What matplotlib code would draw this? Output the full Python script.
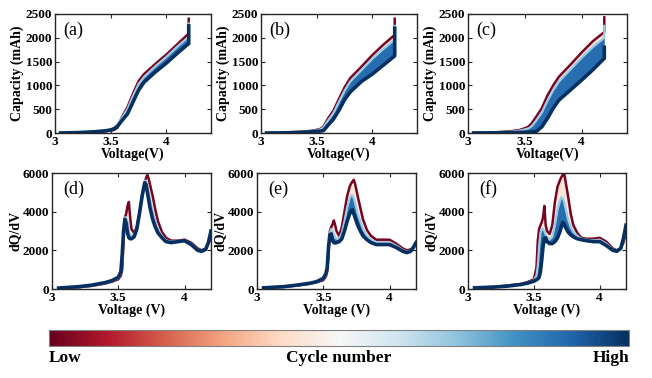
"""Capacity and dQ/dV curves over cycling for three cells, coloured by cycle number."""
import matplotlib
matplotlib.use("Agg")
import matplotlib as mpl
import matplotlib.pyplot as plt

# Charge curves: capacity (mAh) vs voltage, three cycles per cell (low, mid, high)
v_cap = [3.05, 3.2, 3.35, 3.45, 3.5, 3.53, 3.56, 3.6, 3.65, 3.7, 3.75, 3.8, 3.9, 4.0, 4.1, 4.2, 4.2]

cap_a_low = [0, 5, 18, 35, 50, 65, 110, 330, 540, 830, 1090, 1240, 1450, 1650, 1870, 2090, 2400]
cap_a_mid = [0, 8, 25, 48, 70, 100, 170, 320, 500, 780, 1030, 1180, 1400, 1600, 1820, 2020, 2300]
cap_a_high = [0, 8, 25, 45, 65, 90, 140, 260, 400, 650, 900, 1070, 1280, 1470, 1680, 1880, 2250]

cap_b_low = [0, 8, 25, 45, 65, 85, 130, 300, 470, 720, 960, 1150, 1390, 1640, 1860, 2060, 2400]
cap_b_mid = [0, 5, 20, 40, 55, 75, 115, 260, 420, 660, 890, 1080, 1320, 1560, 1770, 1960, 2250]
cap_b_high = [0, 3, 12, 25, 35, 40, 50, 160, 290, 480, 700, 860, 1080, 1240, 1430, 1620, 2200]

cap_c_low = [0, 8, 30, 60, 100, 130, 200, 340, 520, 790, 1000, 1180, 1430, 1690, 1930, 2120, 2430]
cap_c_mid = [0, 5, 22, 48, 75, 95, 140, 260, 430, 680, 900, 1080, 1330, 1580, 1810, 2000, 2250]
cap_c_high = [0, 3, 8, 12, 15, 18, 22, 30, 130, 310, 520, 690, 900, 1110, 1330, 1570, 1800]

# Incremental capacity dQ/dV vs voltage, same three cycles per cell
v_dq = [3.05, 3.2, 3.3, 3.4, 3.45, 3.5, 3.52, 3.53, 3.54, 3.55, 3.56, 3.57, 3.58, 3.59,
        3.6, 3.62, 3.64, 3.66, 3.68, 3.7, 3.71, 3.72, 3.73, 3.74, 3.76, 3.78, 3.8, 3.83,
        3.86, 3.9, 3.95, 4.0, 4.05, 4.1, 4.13, 4.16, 4.18, 4.2]

dq_d_low = [30, 90, 160, 280, 370, 500, 700, 1000, 2500, 3700, 3900, 4300, 4500, 3700,
            3100, 2900, 3200, 3900, 4800, 5500, 5750, 5900, 5700, 5400, 4800, 4100, 3500, 2950,
            2650, 2500, 2500, 2550, 2400, 2100, 2000, 2100, 2350, 2600]
dq_d_mid = [40, 100, 180, 300, 400, 550, 800, 1400, 2800, 3700, 3700, 3500, 3000, 2800,
            2750, 2800, 3150, 3900, 4900, 5600, 5600, 5300, 4900, 4600, 4000, 3500, 3100, 2750,
            2520, 2450, 2480, 2520, 2350, 2050, 1970, 2080, 2380, 2800]
dq_d_high = [50, 120, 200, 330, 430, 600, 900, 1800, 3000, 3600, 3400, 2900, 2650, 2600,
             2600, 2700, 3100, 3900, 4800, 5500, 5400, 5000, 4600, 4200, 3600, 3200, 2900, 2650,
             2450, 2400, 2450, 2500, 2300, 2000, 1950, 2050, 2400, 3000]

dq_e_low = [80, 110, 180, 270, 350, 450, 650, 900, 1800, 3000, 3200, 3350, 3550, 3300,
            3000, 2750, 3200, 4000, 4800, 5300, 5450, 5550, 5650, 5450, 4800, 4200, 3600, 3050,
            2750, 2550, 2550, 2550, 2350, 2100, 2000, 2050, 2150, 2300]
dq_e_mid = [70, 115, 190, 285, 365, 500, 720, 1000, 2000, 2900, 3100, 3000, 2800, 2650,
            2600, 2600, 2900, 3500, 4200, 4700, 4850, 4850, 4700, 4450, 3900, 3500, 3100, 2750,
            2550, 2420, 2420, 2420, 2250, 2020, 1930, 2000, 2150, 2350]
dq_e_high = [60, 120, 200, 300, 380, 550, 800, 1100, 2200, 2800, 2850, 2500, 2400, 2380,
             2400, 2450, 2600, 3000, 3500, 3900, 4050, 4100, 3900, 3700, 3300, 3000, 2750, 2550,
             2400, 2300, 2300, 2300, 2150, 1950, 1880, 1950, 2150, 2400]

dq_f_low = [60, 110, 180, 260, 350, 500, 1100, 2500, 3100, 3300, 3450, 3700, 4300, 3300,
            3000, 2850, 3300, 4500, 5300, 5650, 5800, 5900, 6000, 5600, 4800, 3900, 3300, 2900,
            2650, 2600, 2600, 2650, 2450, 2100, 2000, 2100, 2400, 2900]
dq_f_mid = [60, 105, 165, 245, 320, 450, 700, 1200, 2200, 2900, 3100, 3100, 3000, 2800,
            2650, 2550, 2700, 3300, 4100, 4600, 4750, 4700, 4500, 4200, 3600, 3200, 2950, 2750,
            2600, 2550, 2520, 2550, 2350, 2050, 1970, 2100, 2500, 3100]
dq_f_high = [60, 100, 150, 230, 300, 400, 480, 520, 600, 900, 1500, 2200, 2600, 2650,
             2450, 2350, 2350, 2450, 2650, 3000, 3250, 3450, 3350, 3200, 2950, 2800, 2700, 2600,
             2550, 2500, 2450, 2450, 2250, 2000, 1950, 2100, 2600, 3300]

panel_labels = ["(a)", "(b)", "(c)", "(d)", "(e)", "(f)"]

CMAP = plt.get_cmap("RdBu")
INK = "#262626"


def draw_band(ax, x, low, mid, high):
    # fills between cycles, then the cycle lines from first to last
    ax.fill_between(x, low, mid, color=CMAP(0.44), lw=0)
    ax.fill_between(x, mid, high, color=CMAP(0.88), lw=0)
    ax.plot(x, low, color=CMAP(0.02), lw=1.8)
    ax.plot(x, mid, color=CMAP(0.68), lw=1.6)
    ax.plot(x, high, color=CMAP(1.0), lw=2.6)


def style_axes(ax):
    for sp in ax.spines.values():
        sp.set_color(INK)
        sp.set_linewidth(1.0)
    ax.tick_params(direction="in", top=True, right=True, length=3,
                   width=0.8, colors=INK, labelsize=9.5, pad=2)
    for lab in ax.get_xticklabels() + ax.get_yticklabels():
        lab.set_fontweight("bold")
        lab.set_color("black")


def main():
    plt.rcParams["font.family"] = ["Liberation Serif", "DejaVu Serif"]

    W, H = 652, 378
    fig = plt.figure(figsize=(W / 100, H / 100), dpi=100)

    top_rects = [(55, 14, 156, 119), (261, 14, 156, 119), (468, 14, 159, 119)]
    bot_rects = [(52, 173, 159, 116), (257, 173, 159, 116), (468, 173, 158, 116)]

    cap_sets = [
        (cap_a_low, cap_a_mid, cap_a_high),
        (cap_b_low, cap_b_mid, cap_b_high),
        (cap_c_low, cap_c_mid, cap_c_high),
    ]
    dq_sets = [
        (dq_d_low, dq_d_mid, dq_d_high),
        (dq_e_low, dq_e_mid, dq_e_high),
        (dq_f_low, dq_f_mid, dq_f_high),
    ]

    def add_ax(r):
        x0, y0, w, h = r
        return fig.add_axes([x0 / W, 1 - (y0 + h) / H, w / W, h / H])

    # Top row: capacity curves
    for i, (r, (lo, mi, hi)) in enumerate(zip(top_rects, cap_sets)):
        ax = add_ax(r)
        draw_band(ax, v_cap, lo, mi, hi)
        ax.set_xlim(3, 4.4)
        ax.set_ylim(0, 2500)
        ax.set_xticks([3, 3.5, 4])
        ax.set_xticklabels(["3", "3.5", "4"])
        ax.set_yticks([0, 500, 1000, 1500, 2000, 2500])
        ax.set_xlabel("Voltage(V)", fontsize=10, fontweight="bold", labelpad=0)
        ax.set_ylabel("Capacity (mAh)", fontsize=10, fontweight="bold", labelpad=1)
        style_axes(ax)
        ax.text(0.05, 0.86, panel_labels[i], transform=ax.transAxes,
                fontsize=13, va="center", ha="left")

    # Bottom row: dQ/dV curves
    for i, (r, (lo, mi, hi)) in enumerate(zip(bot_rects, dq_sets)):
        ax = add_ax(r)
        draw_band(ax, v_dq, lo, mi, hi)
        ax.set_xlim(3, 4.2)
        ax.set_ylim(0, 6000)
        ax.set_xticks([3, 3.5, 4])
        ax.set_xticklabels(["3", "3.5", "4"])
        ax.set_yticks([0, 2000, 4000, 6000])
        ax.set_xlabel("Voltage (V)", fontsize=10, fontweight="bold", labelpad=0)
        ax.set_ylabel("dQ/dV", fontsize=10, fontweight="bold", labelpad=1)
        style_axes(ax)
        ax.text(0.07, 0.86, panel_labels[i + 3], transform=ax.transAxes,
                fontsize=13, va="center", ha="left")

    # Colour bar for cycle number
    cax = fig.add_axes([49 / W, 1 - 345.5 / H, 580 / W, 15.5 / H])
    cb = mpl.colorbar.ColorbarBase(cax, cmap=CMAP, orientation="horizontal")
    cb.set_ticks([])
    cb.outline.set_edgecolor("#808080")
    cb.outline.set_linewidth(0.8)

    ty = 1 - 358 / H
    fig.text(49 / W, ty, "Low", fontsize=12.5, fontweight="bold", ha="left", va="center")
    fig.text(339 / W, ty, "Cycle number", fontsize=12.5, fontweight="bold",
             ha="center", va="center")
    fig.text(629 / W, ty, "High", fontsize=12.5, fontweight="bold", ha="right", va="center")

    fig.savefig("out.png", dpi=100)


if __name__ == "__main__":
    main()
